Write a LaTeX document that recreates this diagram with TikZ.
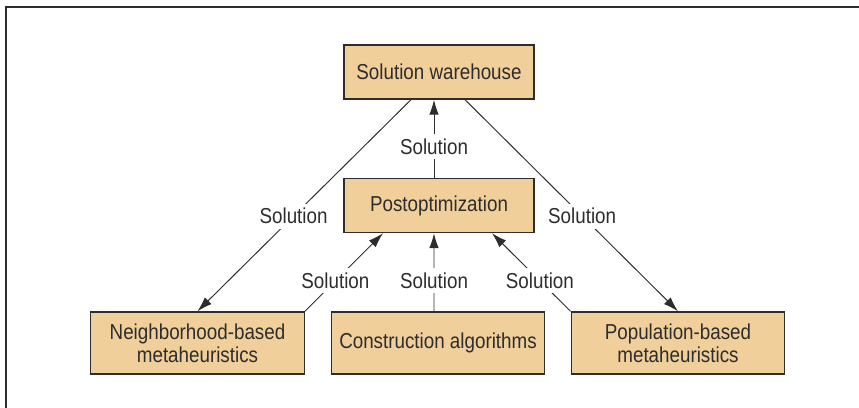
\documentclass[tikz,border=0pt]{standalone}
\usepackage{fontspec}
\setmainfont{Liberation Sans}[FakeStretch=0.87]
\usetikzlibrary{arrows.meta}

\definecolor{boxfill}{RGB}{241,207,155}
\definecolor{ink}{RGB}{45,45,45}

\begin{document}
\begin{tikzpicture}[x=0.02cm, y=-0.02cm,
    every node/.style = {font=\fontsize{12.3pt}{13.1pt}\selectfont, text=ink},
    box/.style={draw=ink, line width=0.8pt, fill=boxfill, align=center,
      minimum width=3.8cm, minimum height=1.08cm, inner sep=0pt},
    wide_box/.style={box, minimum width=4.27cm, minimum height=1.24cm},
    flow/.style={draw=ink, line width=0.55pt, -{Latex[length=0.3cm, width=0.19cm]}},
    sol/.style={fill=white, inner sep=0.09cm},
    ]
    \useasboundingbox (0,0) rectangle (859,408);
    % frame, only top and left edges
    \draw[ink, line width=0.7pt] (6,408) -- (6,7) -- (859,7);

    \node [box] (wh) at (439,72) {Solution warehouse};
    \node [box] (post) at (439,205.5) {Postoptimization};
    \node [wide_box] (nbh) at (197.5,343) {Neighborhood-based\\metaheuristics};
    \node [wide_box] (constr) at (438,343) {Construction algorithms};
    \node [wide_box] (pop) at (678,343) {Population-based\\metaheuristics};

    % from the warehouse down to the two metaheuristics
    \draw [flow] ([xshift=-0.56cm]wh.south) -- node[sol, pos=0.55] {Solution} (nbh.north);
    \draw [flow] ([xshift=0.52cm]wh.south) -- node[sol, pos=0.55] {Solution} (pop.north);

    % up into postoptimization and on to the warehouse
    \draw [flow] ([xshift=-0.1cm]post.north) -- node[sol, pos=0.4] {Solution} ([xshift=-0.1cm]wh.south);
    \draw [flow] (nbh.north east) -- node[sol, pos=0.39] {Solution} ([xshift=-1.12cm]post.south);
    \draw [flow] ([xshift=-0.08cm]constr.north) -- node[sol, pos=0.39] {Solution} ([xshift=-0.1cm]post.south);
    \draw [flow] (pop.north west) -- node[sol, pos=0.39] {Solution} ([xshift=1.06cm]post.south);

\end{tikzpicture}
\end{document}
